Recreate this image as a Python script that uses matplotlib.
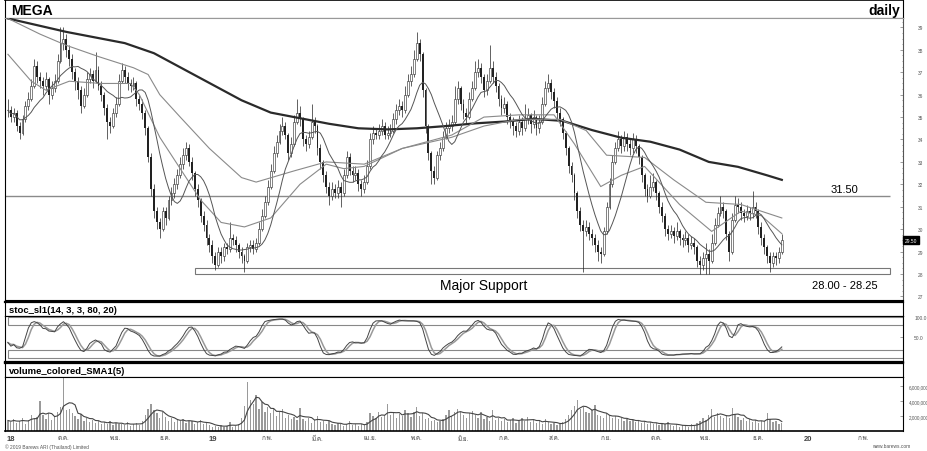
import numpy as np
import pandas as pd
import matplotlib
matplotlib.use("Agg")
import matplotlib.pyplot as plt
import matplotlib.transforms as mtransforms
from matplotlib import font_manager as fm
from matplotlib.ft2font import FT2Font

# ---- data ----
close = [35.3, 35.0, 35.2, 34.6, 34.3, 34.9, 35.5, 35.8, 36.4, 37.3,
         36.8, 36.6, 36.4, 36.7, 36.0, 36.3, 36.6, 37.5, 38.3, 38.5,
         38.0, 37.6, 37.0, 36.6, 36.2, 35.5, 36.0, 36.7, 36.9, 36.6,
         37.1, 36.4, 36.0, 35.4, 34.8, 34.6, 35.2, 35.6, 36.6, 37.1,
         36.8, 36.5, 36.4, 36.5, 35.8, 35.6, 35.2, 34.5, 33.2, 31.8,
         30.8, 30.3, 30.0, 30.8, 30.5, 31.3, 31.6, 32.0, 32.4, 32.9,
         33.3, 33.6, 33.0, 32.5, 31.8, 31.3, 30.6, 30.2, 29.6, 29.3,
         28.8, 28.4, 29.0, 28.8, 29.2, 29.1, 29.6, 29.5, 29.3, 29.0,
         28.8, 28.6, 29.2, 29.3, 29.1, 29.4, 30.0, 30.6, 31.2, 31.9,
         32.6, 33.4, 33.9, 34.4, 34.6, 34.2, 33.4, 33.8, 34.8, 35.2,
         34.9, 34.0, 33.8, 34.1, 34.8, 34.6, 33.6, 33.0, 32.4, 31.9,
         31.5, 31.8, 31.6, 31.9, 31.6, 32.4, 33.2, 32.6, 32.4, 32.5,
         32.0, 31.8, 32.1, 32.8, 34.0, 34.3, 34.2, 34.4, 34.6, 34.2,
         34.3, 34.4, 34.9, 35.3, 35.5, 35.3, 36.0, 36.6, 36.9, 37.6,
         38.3, 37.8, 36.2, 34.6, 33.4, 32.6, 32.3, 33.3, 33.6, 34.1,
         34.5, 34.6, 34.8, 35.8, 36.3, 35.6, 35.2, 35.0, 35.8, 36.3,
         37.0, 37.2, 36.8, 36.2, 36.6, 37.2, 36.8, 36.4, 35.8, 35.4,
         35.6, 35.0, 34.8, 34.6, 34.4, 34.8, 34.5, 34.9, 35.1, 34.7,
         35.0, 34.5, 34.8, 35.6, 36.3, 36.5, 36.1, 35.7, 35.2, 34.9,
         34.3, 33.6, 32.8, 32.4, 31.6, 30.8, 30.2, 29.9, 30.1, 29.8,
         29.6, 29.3, 29.0, 28.9, 29.9, 31.0, 32.0, 33.0, 33.6, 34.0,
         33.7, 34.1, 33.8, 33.6, 34.0, 33.7, 33.2, 32.4, 31.8, 31.5,
         31.9, 32.1, 31.6, 31.0, 30.6, 30.0, 29.8, 29.9, 29.7, 29.9,
         29.6, 29.5, 29.6, 29.3, 29.4, 29.2, 28.6, 28.4, 28.7, 28.9,
         28.6, 29.4, 30.2, 30.7, 31.0, 30.8, 29.8, 29.0, 30.4, 31.1,
         31.0, 30.7, 30.6, 30.8, 30.7, 31.0, 30.8, 30.1, 29.6, 29.2,
         28.8, 28.5, 28.8, 28.7, 29.0, 29.5]

high = [35.8, 35.5, 35.4, 35.3, 34.8, 35.1, 35.7, 36.1, 36.7, 37.6,
        37.5, 37.0, 36.8, 37.0, 36.8, 36.6, 36.9, 37.8, 39.0, 39.0,
        38.7, 38.2, 37.8, 37.2, 36.8, 36.4, 36.3, 37.0, 37.2, 37.1,
        37.9, 37.3, 36.6, 36.1, 35.6, 35.0, 35.4, 35.9, 36.9, 37.4,
        37.3, 37.0, 36.7, 36.8, 36.6, 36.0, 35.8, 35.3, 34.6, 33.4,
        32.0, 31.0, 30.5, 31.0, 31.0, 31.5, 31.9, 32.3, 32.7, 33.2,
        33.6, 33.9, 33.8, 33.2, 32.6, 32.0, 31.4, 30.8, 30.4, 29.8,
        29.5, 29.0, 29.2, 29.2, 29.4, 29.4, 30.3, 29.8, 29.7, 29.4,
        29.2, 28.9, 29.4, 29.5, 29.5, 29.6, 30.3, 30.9, 31.5, 32.2,
        32.9, 33.7, 34.2, 34.7, 35.0, 34.8, 34.3, 34.1, 35.1, 35.8,
        35.5, 35.0, 34.2, 34.4, 35.6, 35.0, 34.7, 33.8, 33.1, 32.6,
        32.1, 32.1, 32.0, 32.2, 32.1, 32.7, 33.5, 33.4, 32.8, 32.8,
        32.7, 32.2, 32.4, 33.1, 34.3, 34.6, 34.5, 34.7, 34.9, 34.8,
        34.6, 34.7, 35.2, 35.6, 35.8, 35.7, 36.4, 36.9, 37.3, 38.0,
        38.8, 38.5, 37.9, 36.3, 34.7, 33.5, 32.8, 33.5, 33.9, 34.4,
        34.8, 34.9, 35.1, 36.4, 36.6, 36.4, 35.8, 35.4, 36.1, 36.6,
        37.5, 37.6, 37.4, 36.9, 36.9, 38.2, 37.5, 37.0, 36.5, 36.0,
        35.9, 35.7, 35.2, 35.0, 34.8, 35.1, 35.0, 35.6, 35.4, 35.2,
        35.3, 35.1, 35.1, 35.9, 36.6, 36.9, 36.7, 36.3, 35.9, 35.4,
        35.0, 34.4, 33.7, 33.0, 32.5, 31.7, 31.0, 30.4, 30.4, 30.3,
        30.0, 29.8, 29.5, 29.2, 30.1, 31.2, 32.3, 33.3, 33.9, 34.4,
        34.2, 34.4, 34.3, 34.0, 34.3, 34.2, 33.8, 33.3, 32.5, 32.0,
        32.4, 32.5, 32.2, 31.7, 31.2, 30.7, 30.2, 30.2, 30.1, 30.3,
        30.0, 29.8, 29.9, 29.8, 29.7, 29.6, 29.3, 28.8, 29.0, 29.4,
        29.1, 29.8, 30.5, 31.0, 31.5, 31.2, 30.9, 29.9, 30.7, 31.5,
        31.4, 31.2, 30.9, 31.1, 31.0, 31.7, 31.2, 30.9, 30.3, 29.8,
        29.3, 29.0, 29.0, 29.0, 29.2, 29.8]

low = [35.0, 34.8, 34.8, 34.4, 34.0, 34.2, 34.8, 35.3, 35.7, 36.3,
       36.5, 36.3, 36.0, 36.2, 35.6, 35.8, 36.1, 36.5, 37.4, 38.0,
       37.7, 37.3, 36.7, 36.2, 35.8, 35.2, 35.4, 35.9, 36.5, 36.3,
       36.5, 36.2, 35.7, 35.1, 34.0, 34.3, 34.5, 35.0, 35.5, 36.5,
       36.5, 36.2, 36.1, 36.2, 35.5, 35.3, 34.9, 34.2, 33.0, 31.5,
       30.5, 30.0, 29.6, 29.9, 30.2, 30.4, 31.1, 31.4, 31.8, 32.3,
       32.7, 33.1, 32.8, 32.2, 31.5, 31.0, 30.3, 29.9, 29.3, 29.0,
       28.5, 28.2, 28.3, 28.5, 28.6, 28.9, 29.0, 29.3, 29.0, 28.7,
       28.5, 28.1, 28.5, 29.0, 28.9, 29.0, 29.3, 29.9, 30.5, 31.1,
       31.8, 32.5, 33.2, 33.8, 34.2, 34.0, 33.1, 33.2, 33.7, 34.7,
       34.6, 33.7, 33.5, 33.6, 34.0, 34.3, 33.3, 32.7, 32.1, 31.6,
       31.1, 31.3, 31.4, 31.4, 31.0, 31.5, 32.3, 32.4, 32.1, 32.2,
       31.7, 31.5, 31.6, 32.0, 32.7, 33.8, 34.0, 34.0, 34.2, 34.0,
       34.0, 34.1, 34.3, 34.7, 35.1, 35.0, 35.2, 35.9, 36.4, 36.8,
       37.5, 37.5, 35.9, 34.3, 33.1, 32.0, 32.0, 32.2, 33.1, 33.5,
       34.0, 34.3, 34.4, 34.7, 35.6, 35.3, 34.9, 34.7, 34.9, 35.7,
       36.2, 36.8, 36.5, 35.9, 36.0, 36.5, 36.5, 36.1, 35.5, 35.1,
       35.2, 34.7, 34.5, 34.2, 34.1, 34.2, 34.2, 34.4, 34.7, 34.3,
       34.5, 34.2, 34.3, 34.7, 35.5, 36.1, 35.8, 35.4, 34.9, 34.6,
       34.0, 33.3, 32.5, 32.1, 31.3, 30.5, 29.9, 28.1, 29.7, 29.5,
       29.3, 29.0, 28.6, 28.5, 28.8, 29.8, 30.9, 31.9, 32.9, 33.5,
       33.4, 33.5, 33.5, 33.3, 33.4, 33.4, 32.9, 32.1, 31.5, 31.2,
       31.4, 31.7, 31.3, 30.7, 30.3, 29.7, 29.5, 29.6, 29.4, 29.5,
       29.3, 29.2, 29.3, 29.0, 29.1, 28.9, 28.3, 28.0, 28.2, 28.0,
       28.0, 28.5, 29.3, 30.1, 30.6, 30.5, 29.5, 28.6, 28.9, 30.3,
       30.7, 30.4, 30.3, 30.4, 30.4, 30.5, 30.5, 29.8, 29.3, 28.9,
       28.5, 28.1, 28.3, 28.4, 28.5, 28.9]

# volume in millions of shares
volume_m = [1.4, 1.2, 1.6, 1.1, 1.3, 1.8, 1.0, 1.5, 2.2, 1.7,
            1.9, 4.0, 2.1, 1.6, 2.4, 1.5, 2.0, 2.6, 3.2, 7.2,
            2.8, 3.0, 2.4, 2.0, 1.6, 2.3, 1.4, 1.8, 1.2, 1.5,
            1.1, 1.3, 0.9, 1.2, 1.0, 1.4, 0.8, 1.1, 0.9, 1.0,
            0.8, 1.2, 0.7, 0.9, 1.1, 0.8, 1.4, 2.2, 3.0, 3.6,
            2.8, 2.4, 1.8, 2.6, 1.9, 1.4, 1.7, 1.2, 1.5, 1.3,
            1.6, 1.1, 1.4, 1.3, 1.0, 1.2, 1.5, 0.9, 1.1, 0.8,
            0.6, 0.7, 0.5, 0.8, 0.6, 0.7, 1.2, 0.6, 0.7, 0.9,
            1.8, 3.4, 6.5, 4.2, 3.6, 4.8, 3.0, 3.9, 2.6, 3.2,
            2.4, 2.9, 2.0, 2.6, 3.0, 1.8, 2.2, 1.6, 1.9, 1.5,
            3.1, 1.6, 1.3, 1.8, 1.1, 1.5, 2.0, 1.2, 1.4, 1.0,
            1.3, 1.0, 0.8, 1.1, 0.9, 0.7, 1.0, 1.4, 0.8, 0.9,
            0.7, 1.0, 0.8, 1.2, 2.4, 2.0, 1.8, 2.6, 1.9, 2.2,
            3.6, 2.1, 2.5, 1.8, 2.3, 2.0, 2.8, 2.4, 1.9, 2.6,
            3.2, 2.0, 2.4, 1.6, 1.8, 1.3, 1.5, 1.2, 1.4, 1.6,
            2.2, 2.8, 2.0, 2.5, 3.0, 2.6, 2.2, 1.8, 2.4, 2.7,
            2.1, 1.8, 2.5, 1.6, 1.9, 1.4, 2.8, 1.5, 1.7, 1.3,
            1.6, 1.2, 1.5, 1.8, 1.1, 1.4, 1.7, 1.3, 1.9, 1.2,
            1.5, 1.1, 1.3, 1.0, 1.6, 1.2, 0.9, 1.1, 0.8, 1.0,
            1.2, 1.6, 2.2, 2.8, 3.4, 4.2, 2.9, 3.2, 2.6, 2.4,
            2.8, 3.5, 2.2, 2.0, 1.8, 2.4, 2.1, 1.7, 2.0, 1.6,
            1.8, 1.4, 1.6, 1.3, 1.5, 1.2, 1.4, 1.1, 1.3, 1.0,
            1.2, 0.9, 1.1, 0.8, 1.0, 0.9, 1.2, 0.8, 0.7, 0.9,
            0.6, 0.8, 0.7, 0.6, 0.9, 0.7, 1.1, 1.4, 1.8, 1.5,
            2.2, 2.9, 1.9, 2.4, 2.0, 1.7, 2.2, 1.8, 3.1, 2.3,
            1.9, 1.5, 1.7, 1.3, 1.6, 1.2, 1.5, 1.1, 1.4, 1.3,
            2.4, 1.6, 1.2, 1.4, 1.0, 1.1]

# long moving averages, read at bar positions
ma_long_pos = [0, 10, 20, 30, 40, 50, 60, 70, 80, 90, 100, 110, 120, 130,
               140, 150, 160, 170, 180, 190, 200, 210, 220, 230, 240, 250, 260, 265]
ma_long = [39.4, 39.1, 38.8, 38.55, 38.3, 37.85, 37.15, 36.45, 35.75, 35.2,
           34.95, 34.7, 34.5, 34.45, 34.5, 34.6, 34.72, 34.8, 34.92, 34.83,
           34.42, 34.08, 33.9, 33.55, 33.0, 32.78, 32.4, 32.2]
ma_mid_pos = [0, 11, 20, 31, 43, 48, 52, 59, 69, 80, 85, 98, 109, 122, 135,
              152, 163, 175, 189, 198, 205, 218, 228, 239, 251, 265]
ma_mid = [39.4, 38.7, 38.2, 37.7, 37.2, 36.9, 36.0, 35.0, 33.6, 32.3, 32.1,
          32.6, 33.0, 32.9, 33.6, 34.1, 34.6, 34.9, 34.9, 34.4, 33.3, 33.2,
          32.2, 31.2, 31.1, 30.5]
ma_short_pos = [0, 8, 13, 21, 32, 42, 45, 52, 59, 66, 73, 81, 90, 100, 109, 115,
                122, 135, 152, 163, 175, 187, 194, 203, 210, 218, 230, 241, 251, 258, 265]
ma_short = [37.8, 36.6, 36.2, 36.6, 36.5, 36.5, 36.0, 34.1, 32.7, 31.3, 30.3,
            30.1, 30.5, 32.0, 32.9, 32.7, 32.8, 33.6, 34.2, 35.0, 35.1, 35.1,
            33.8, 31.9, 32.4, 32.8, 31.1, 29.9, 30.8, 30.6, 29.8]

month_pos = [1, 19, 37, 54, 70, 89, 106, 124, 140, 156, 170, 187, 205, 222, 239, 257, 274, 293]
month_lab = ['18', 'ต.ค.', 'พ.ย.', 'ธ.ค.', '19', 'ก.พ.', 'มี.ค.', 'เม.ย.', 'พ.ค.', 'มิ.ย.',
             'ก.ค.', 'ส.ค.', 'ก.ย.', 'ต.ค.', 'พ.ย.', 'ธ.ค.', '20', 'ก.พ.']

resistance = 31.50
support_lo, support_hi = 28.00, 28.25
support_start = 64
last_price = 29.50

assert len(close) == len(high) == len(low) == len(volume_m)

# ---- fonts: find something that can draw Thai ----
thai_font = None
for f in fm.fontManager.ttflist:
    try:
        if ord('ก') in FT2Font(f.fname).get_charmap():
            thai_font = f.name
            break
    except Exception:
        pass
fams = ['Liberation Sans', 'DejaVu Sans'] + ([thai_font] if thai_font else [])
plt.rcParams['font.family'] = fams

# ---- indicators ----
c = np.array(close)
o = np.r_[c[0], c[:-1]]
h = np.array(high)
l = np.array(low)
x = np.arange(len(c))
sma10 = pd.Series(c).rolling(10, min_periods=1).mean()

hh = pd.Series(h).rolling(14, min_periods=1).max()
ll = pd.Series(l).rolling(14, min_periods=1).min()
raw_k = 100 * (c - ll) / (hh - ll)
slow_k = raw_k.rolling(3, min_periods=1).mean()
slow_d = slow_k.rolling(3, min_periods=1).mean()

vol = np.array(volume_m)
vol_sma = pd.Series(vol).rolling(5, min_periods=1).mean()

# ---- layout (pixel boxes) ----
W, H = 928, 452
fig = plt.figure(figsize=(9.28, 4.52), dpi=100)

def box(x0, y0, x1, y1):
    return [x0 / W, 1 - y1 / H, (x1 - x0) / W, (y1 - y0) / H]

ax_t = fig.add_axes(box(5, 1, 903, 19))
ax = fig.add_axes(box(5, 19, 903, 301))
ax_st_t = fig.add_axes(box(5, 303, 903, 317))
ax_st = fig.add_axes(box(5, 317, 903, 363))
ax_v_t = fig.add_axes(box(5, 364, 903, 378))
ax_v = fig.add_axes(box(5, 378, 903, 432))

xlim = (-1, 306.5)

for a, label in [(ax_t, None), (ax_st_t, 'stoc_sl1(14, 3, 3, 80, 20)'),
                 (ax_v_t, 'volume_colored_SMA1(5)')]:
    a.set_xticks([]); a.set_yticks([])
    for s in a.spines.values():
        s.set_linewidth(0.8)
    if label:
        a.text(0.004, 0.45, label, transform=a.transAxes, fontsize=6.8,
               fontweight='bold', va='center', ha='left')
ax_t.spines['top'].set_linewidth(1.2)
ax_st_t.spines['top'].set_linewidth(1.6)
ax_v_t.spines['top'].set_linewidth(1.6)
ax_t.text(0.007, 0.45, 'MEGA', transform=ax_t.transAxes, fontsize=10,
          fontweight='bold', va='center', ha='left')
ax_t.text(0.997, 0.45, 'daily', transform=ax_t.transAxes, fontsize=10,
          fontweight='bold', va='center', ha='right')

# ---- main price panel ----
ax.vlines(x, l, h, color='#222222', lw=0.5, zorder=3)
up = c >= o
ax.bar(x[up], (c - o)[up], bottom=o[up], width=0.65, facecolor='white',
       edgecolor='#222222', lw=0.4, zorder=4)
ax.bar(x[~up], (o - c)[~up], bottom=c[~up], width=0.65, color='#222222', lw=0, zorder=4)

ax.plot(ma_long_pos, ma_long, color='#2a2a2a', lw=1.6, zorder=5)
ax.plot(ma_mid_pos, ma_mid, color='#8a8a8a', lw=0.8, zorder=5)
ax.plot(ma_short_pos, ma_short, color='#8a8a8a', lw=0.8, zorder=5)
ax.plot(x, sma10, color='#555555', lw=0.7, zorder=5)

ax.hlines(resistance, xlim[0], 302, color='#8a8a8a', lw=1.0, zorder=2)
ax.add_patch(plt.Rectangle((support_start, support_lo), 302 - support_start,
                           support_hi - support_lo, facecolor='white',
                           edgecolor='#777777', lw=0.8, zorder=2))
ax.text(286.5, resistance + 0.3, f'{resistance:.2f}', fontsize=8, ha='center', va='center')
ax.text(163, 27.5, 'Major Support', fontsize=10, ha='center', va='center')
ax.text(286.5, 27.5, f'{support_lo:.2f} - {support_hi:.2f}', fontsize=8,
        ha='center', va='center')

ax.set_xlim(xlim)
ax.set_ylim(26.84, 39.42)
ax.set_xticks([])
ax.yaxis.tick_right()
ax.set_yticks(range(27, 40))
ax.set_yticks(np.arange(27, 39.5, 0.25), minor=True)
ax.tick_params(axis='y', which='both', direction='in', labelsize=3.5,
               labelcolor='#555555', pad=11, length=2, width=0.5, color='#777777')
ax.tick_params(axis='y', which='minor', length=1)
tr = mtransforms.blended_transform_factory(ax.transAxes, ax.transData)
ax.text(1.002, last_price, f'{last_price:.2f}', transform=tr, fontsize=3.5,
        color='white', va='center', ha='left',
        bbox=dict(boxstyle='square,pad=0.3', facecolor='black', edgecolor='black'))
for s in ['top', 'left', 'bottom']:
    ax.spines[s].set_linewidth(0.8)
ax.spines['top'].set_color('#999999')
ax.spines['right'].set_color('#555555')

# ---- stochastic ----
ax_st.axhspan(80, 100, xmin=0.003, xmax=1, fill=False, edgecolor='#888888', lw=0.8)
ax_st.axhspan(0, 20, xmin=0.003, xmax=1, fill=False, edgecolor='#888888', lw=0.8)
ax_st.plot(x, slow_d, color='#999999', lw=1.1)
ax_st.plot(x, slow_k, color='#444444', lw=0.7)
ax_st.set_xlim(xlim)
ax_st.set_ylim(-10, 102.5)
ax_st.set_xticks([])
ax_st.yaxis.tick_right()
ax_st.set_yticks([50, 100])
ax_st.set_yticklabels(['50.0', '100.0'])
ax_st.tick_params(axis='y', direction='in', labelsize=3.5, labelcolor='#555555',
                  pad=8, length=2, width=0.5, color='#777777')
ax_st.spines['bottom'].set_linewidth(1.6)

# ---- volume ----
ax_v.bar(x, vol, width=0.45, color='#9a9a9a', lw=0)
ax_v.plot(x, vol_sma, color='#444444', lw=0.8)
ax_v.set_xlim(xlim)
ax_v.set_ylim(0, 7.2)
ax_v.yaxis.tick_right()
ax_v.set_yticks([2, 4, 6])
ax_v.set_yticklabels(['2,000,000', '4,000,000', '6,000,000'])
ax_v.tick_params(axis='y', direction='in', labelsize=3.3, labelcolor='#555555',
                 pad=4, length=2, width=0.5, color='#777777')
ax_v.set_xticks(month_pos)
ax_v.set_xticklabels(month_lab)
ax_v.tick_params(axis='x', length=0, labelsize=4.5, labelcolor='#444444', pad=3)
for lab in ax_v.get_xticklabels():
    if lab.get_text().isdigit():
        lab.set_fontweight('bold')
        lab.set_fontsize(5.5)
ax_v.spines['bottom'].set_linewidth(1.2)

fig.text(5 / W, 1 - 447 / H, '© 2019 Barews ARI (Thailand) Limited', fontsize=3.5,
         color='#555555', va='center', ha='left')
fig.text(872 / W, 1 - 447 / H, 'www.barews.com', fontsize=3.5, color='#555555',
         va='center', ha='left')

fig.savefig('out.png', dpi=100)
